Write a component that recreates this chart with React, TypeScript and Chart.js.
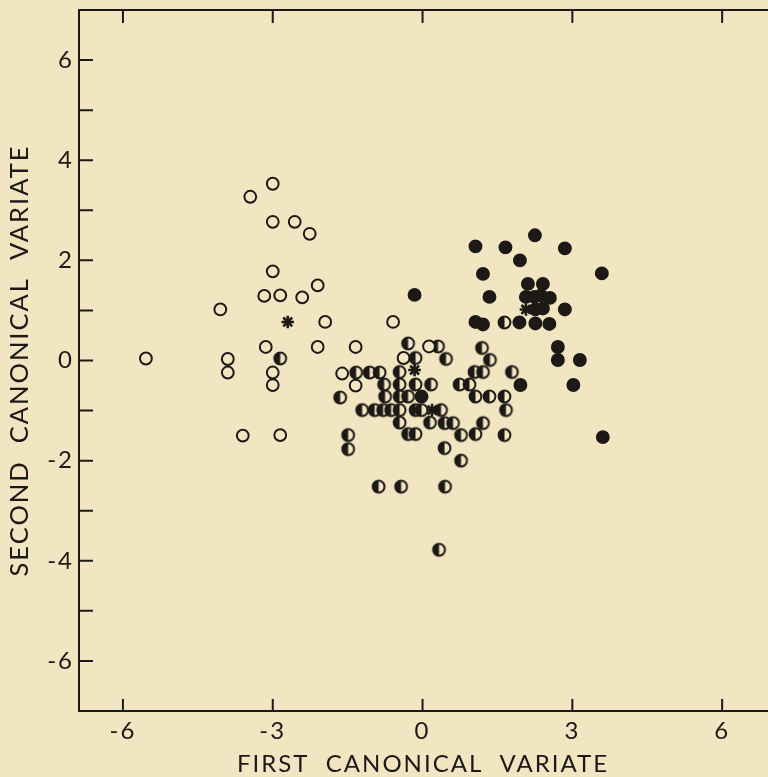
import React, { useEffect, useRef } from 'react';
import { Chart, registerables } from 'chart.js';

Chart.register(...registerables);

const BG = '#f2e6c2';
const INK = '#1c1916';
const FONT = 'Lato, "Open Sans", sans-serif';

// Values (first canonical variate, second canonical variate)
const openPoints: [number, number][] = [
  [-3.0, 3.53], [-3.45, 3.27], [-3.0, 2.77], [-2.56, 2.77], [-2.26, 2.53],
  [-3.0, 1.78], [-2.1, 1.5], [-3.17, 1.29], [-2.85, 1.3], [-2.41, 1.26],
  [-4.05, 1.02], [-1.95, 0.77], [-3.14, 0.27], [-2.1, 0.27], [-5.54, 0.04],
  [-3.9, 0.03], [-3.9, -0.24], [-3.0, -0.24], [-3.0, -0.49], [-3.6, -1.5],
  [-2.85, -1.49], [-0.59, 0.77], [-1.34, 0.27], [0.13, 0.28], [-0.38, 0.05],
  [-1.61, -0.26], [-1.34, -0.5],
];

const halfPoints: [number, number][] = [
  [-2.85, 0.04], [-1.65, -0.74], [-1.49, -1.49], [-1.49, -1.77],
  [-0.29, 0.34], [0.31, 0.28], [1.19, 0.25], [1.64, 0.76],
  [-0.14, 0.05], [0.47, 0.03], [1.35, 0.01],
  [-1.33, -0.24], [-1.06, -0.24], [-0.86, -0.24], [-0.46, -0.23], [1.04, -0.23], [1.21, -0.23], [1.79, -0.23],
  [-0.77, -0.48], [-0.46, -0.48], [-0.14, -0.48], [0.17, -0.48], [0.74, -0.48], [0.94, -0.48],
  [-0.75, -0.72], [-0.46, -0.72], [-0.29, -0.72], [1.06, -0.72], [1.34, -0.72], [1.64, -0.72],
  [-1.21, -0.99], [-0.96, -0.99], [-0.79, -0.99], [-0.63, -0.99], [-0.46, -0.99], [-0.14, -0.99],
  [-0.02, -0.99], [0.37, -0.99], [1.67, -0.99],
  [-0.46, -1.24], [0.15, -1.24], [0.44, -1.25], [0.61, -1.25], [1.21, -1.25],
  [-0.29, -1.47], [-0.14, -1.47], [0.77, -1.49], [1.06, -1.47], [1.64, -1.49],
  [0.44, -1.75], [0.77, -2.0],
  [-0.88, -2.52], [-0.43, -2.52], [0.45, -2.52], [0.33, -3.78],
];

const filledPoints: [number, number][] = [
  [-0.16, 1.31], [1.06, 2.28], [1.66, 2.26], [2.25, 2.5], [2.85, 2.24], [1.95, 2.0],
  [1.21, 1.73], [3.59, 1.74], [1.34, 1.27],
  [2.11, 1.53], [2.41, 1.53], [2.07, 1.27], [2.24, 1.27], [2.37, 1.3], [2.55, 1.25],
  [2.26, 1.02], [2.41, 1.04], [2.85, 1.02],
  [1.06, 0.77], [1.21, 0.72], [1.94, 0.76], [2.26, 0.74], [2.54, 0.73],
  [2.71, 0.27], [2.71, 0.01], [3.15, 0.01], [1.96, -0.49], [3.02, -0.49], [3.61, -1.53],
  [-0.02, -0.72],
];

const centroidPoints: [number, number][] = [
  [-2.7, 0.77], [-0.16, -0.19], [0.19, -0.99], [2.07, 1.02],
];

const xTickValues = [-6, -3, 0, 3, 6];
const yTickValues = [-6, -5, -4, -3, -2, -1, 0, 1, 2, 3, 4, 5, 6];
const yLabelValues = [-6, -4, -2, 0, 2, 4, 6];

const xTitle = 'FIRST  CANONICAL  VARIATE';
const yTitle = 'SECOND  CANONICAL  VARIATE';

function makeHalfCircle(): HTMLCanvasElement {
  const c = document.createElement('canvas');
  c.width = 17;
  c.height = 17;
  const ctx = c.getContext('2d')!;
  const cx = 8.5, cy = 8.5, r = 5.9;
  ctx.fillStyle = BG;
  ctx.beginPath();
  ctx.arc(cx, cy, r, 0, Math.PI * 2);
  ctx.fill();
  ctx.fillStyle = INK;
  ctx.beginPath();
  ctx.arc(cx, cy, r, Math.PI / 2, (3 * Math.PI) / 2);
  ctx.closePath();
  ctx.fill();
  ctx.strokeStyle = INK;
  ctx.lineWidth = 2;
  ctx.beginPath();
  ctx.arc(cx, cy, r, 0, Math.PI * 2);
  ctx.stroke();
  return c;
}

const toXY = (pts: [number, number][]) => pts.map(([x, y]) => ({ x, y }));

export default function App() {
  const ref = useRef<HTMLCanvasElement | null>(null);

  useEffect(() => {
    document.body.style.background = BG;
    const canvas = ref.current!;
    const half = makeHalfCircle();

    const bgPlugin = {
      id: 'bg',
      beforeDraw(chart: any) {
        const { ctx, width, height } = chart;
        ctx.save();
        ctx.fillStyle = BG;
        ctx.fillRect(0, 0, width, height);
        ctx.restore();
        (ctx as any).letterSpacing = '2px';
      },
    };

    const framePlugin = {
      id: 'frame',
      afterDraw(chart: any) {
        const { ctx, chartArea } = chart;
        const xs = chart.scales.x;
        const ys = chart.scales.y;
        ctx.save();
        ctx.strokeStyle = INK;
        ctx.lineWidth = 2;
        ctx.beginPath();
        ctx.moveTo(chartArea.left - 1, chartArea.top);
        ctx.lineTo(chartArea.right + 2, chartArea.top);
        ctx.stroke();
        ctx.beginPath();
        for (const v of yTickValues) {
          const py = ys.getPixelForValue(v);
          ctx.moveTo(chartArea.left, py);
          ctx.lineTo(chartArea.left + 14, py);
        }
        for (const v of xTickValues) {
          const px = xs.getPixelForValue(v);
          ctx.moveTo(px, chartArea.bottom);
          ctx.lineTo(px, chartArea.bottom - 12);
          ctx.moveTo(px, chartArea.top);
          ctx.lineTo(px, chartArea.top + 13);
        }
        ctx.stroke();
        ctx.restore();
      },
    };

    const chart = new Chart(canvas, {
      type: 'scatter',
      data: {
        datasets: [
          {
            label: 'open',
            data: toXY(openPoints),
            pointStyle: 'circle',
            pointRadius: 5.9,
            borderWidth: 2,
            borderColor: INK,
            backgroundColor: BG,
          },
          {
            label: 'half',
            data: toXY(halfPoints),
            pointStyle: half as any,
            pointRadius: 6,
          },
          {
            label: 'filled',
            data: toXY(filledPoints),
            pointStyle: 'circle',
            pointRadius: 6.2,
            borderWidth: 1.5,
            borderColor: INK,
            backgroundColor: INK,
          },
          {
            label: 'centroid',
            data: toXY(centroidPoints),
            pointStyle: 'star',
            pointRadius: 6.3,
            borderWidth: 2.6,
            borderColor: INK,
            backgroundColor: INK,
          },
        ],
      },
      options: {
        responsive: false,
        animation: false,
        devicePixelRatio: 1,
        layout: { padding: { top: 10, right: 0, left: 0, bottom: 0 } },
        plugins: {
          legend: { display: false },
          tooltip: { enabled: false },
        },
        scales: {
          x: {
            type: 'linear',
            min: -6.88,
            max: 6.9,
            afterBuildTicks: (s: any) => {
              s.ticks = xTickValues.map((v) => ({ value: v }));
            },
            afterFit: (s: any) => {
              s.height = 66;
              s.paddingLeft = 0;
              s.paddingRight = 0;
            },
            grid: { display: false, drawTicks: false, tickLength: 0 },
            border: { display: true, color: INK, width: 2 },
            ticks: {
              color: INK,
              padding: 6,
              maxRotation: 0,
              autoSkip: false,
              font: { family: FONT, size: 24, weight: '400' as any },
            },
            title: {
              display: true,
              text: xTitle,
              color: INK,
              padding: { top: 0, bottom: -2 },
              font: { family: FONT, size: 24, weight: '400' as any },
            },
          },
          y: {
            type: 'linear',
            min: -7,
            max: 7,
            afterBuildTicks: (s: any) => {
              s.ticks = yTickValues.map((v) => ({ value: v }));
            },
            afterFit: (s: any) => {
              s.width = 79;
              s.paddingTop = 0;
              s.paddingBottom = 0;
            },
            grid: { display: false, drawTicks: false, tickLength: 0 },
            border: { display: true, color: INK, width: 2 },
            ticks: {
              color: INK,
              padding: 5,
              autoSkip: false,
              font: { family: FONT, size: 24, weight: '400' as any },
              callback: (v: any) => (yLabelValues.includes(Number(v)) ? String(v) : ''),
            },
            title: {
              display: true,
              text: yTitle,
              color: INK,
              padding: { top: 4, bottom: 0 },
              font: { family: FONT, size: 25.5, weight: '400' as any },
            },
          },
        },
      },
      plugins: [bgPlugin, framePlugin],
    });

    return () => chart.destroy();
  }, []);

  return (
    <div style={{ position: 'absolute', left: 0, top: 0, width: 768, height: 777, overflow: 'hidden', background: BG }}>
      <canvas ref={ref} width={776} height={777} style={{ display: 'block' }} />
    </div>
  );
}
